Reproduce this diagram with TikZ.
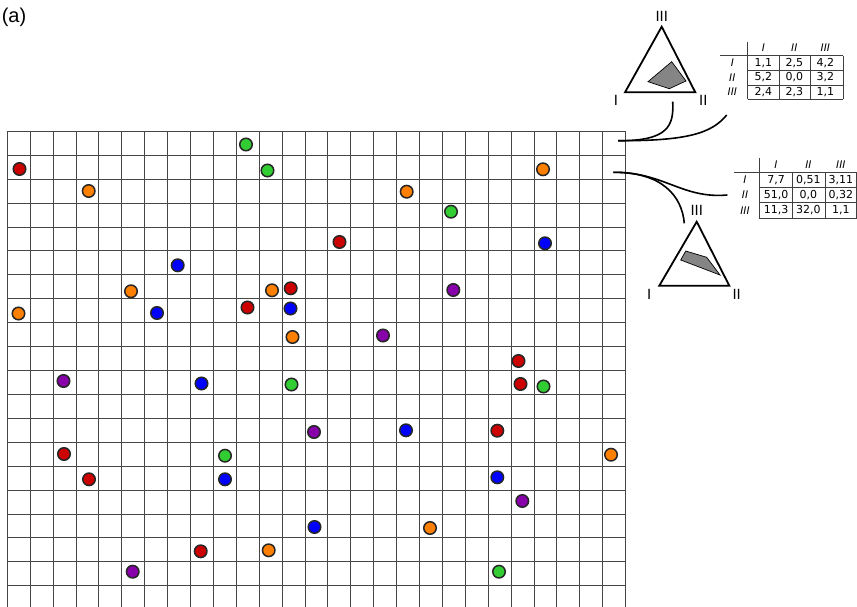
\documentclass[tikz,border=0pt]{standalone}
\usepackage{fontspec}
\setmainfont{DejaVu Sans}
\newfontfamily\captfont{Liberation Sans}
\usetikzlibrary{positioning}
\definecolor{dotred}{RGB}{204,0,0}
\definecolor{dotgreen}{RGB}{50,205,50}
\definecolor{dotorange}{RGB}{255,128,0}
\definecolor{dotblue}{RGB}{0,0,255}
\definecolor{dotpurple}{RGB}{136,0,170}
\definecolor{gridgray}{RGB}{70,70,70}

\begin{document}
\begin{tikzpicture}[x=1pt,y=-1pt,
    g/.style={draw=gridgray,line width=0.9pt},
    dot/.style={circle,draw=black!85,line width=1.5pt,minimum size=12.5pt,inner sep=0pt},
    tri/.style={draw,line width=1.8pt,line join=miter},
    region/.style={draw,fill=black!48,line width=0.7pt},
    lab/.style={font=\fontsize{14}{15}\selectfont,inner sep=0pt},
    cell/.style={font=\fontsize{11}{12}\selectfont,inner sep=0pt},
    hd/.style={font=\fontsize{10.5}{11}\selectfont\itshape,inner sep=0pt},
    tl/.style={draw=black!75,line width=0.8pt},
    wire/.style={line width=1.6pt}]
  \useasboundingbox (0,0) rectangle (857,607);
  \node[font=\captfont\fontsize{20}{21}\selectfont,inner sep=0pt] (cap) at (14,17) {(a)};

  \foreach \i in {0,...,27}
    \draw[g] (7.3+22.9*\i,131.3) -- (7.3+22.9*\i,607);
  \foreach \j in {0,...,19}
    \draw[g] (7.3,131.3+23.92*\j) -- (625.6,131.3+23.92*\j);

  \foreach \x/\y/\c [count=\n] in {
      246/144.5/dotgreen, 19.5/169/dotred, 267.5/170.5/dotgreen, 543/169.3/dotorange,
      88.7/191/dotorange, 406.7/191.7/dotorange, 451/211.7/dotgreen, 339.5/242/dotred,
      545/243.3/dotblue, 177.7/265.3/dotblue, 131/291.3/dotorange, 272/290.3/dotorange,
      290.7/288.3/dotred, 453.3/290/dotpurple, 18.5/313.5/dotorange, 157/313/dotblue,
      247.5/307.5/dotred, 290.5/308.5/dotblue, 292.5/337/dotorange, 383/335.5/dotpurple,
      518.5/361/dotred, 63.5/381/dotpurple, 201.5/383.5/dotblue, 291.5/384.5/dotgreen,
      520.5/384/dotred, 543.5/386.5/dotgreen, 314/432/dotpurple, 406/430.3/dotblue,
      497.3/430.7/dotred, 64/454/dotred, 225/455.7/dotgreen, 611/454.7/dotorange,
      89/479.3/dotred, 225/479.3/dotblue, 497.3/477.3/dotblue, 522.3/501/dotpurple,
      314.5/527/dotblue, 430/528/dotorange, 200.7/551.3/dotred, 268.7/550.3/dotorange,
      132.7/571.7/dotpurple, 499/571.7/dotgreen}
    \node[dot,fill=\c] (d\n) at (\x,\y) {};

  \draw[tri] (661.7,26.7) -- (695.3,92.3) -- (625,92.3) -- cycle;
  \draw[region] (671.7,61.7) -- (686,81) -- (669.3,88.7) -- (648,81.7) -- cycle;
  \node[lab] (ta3) at (661.7,16.7) {III};
  \node[lab] (ta1) at (616,100.5) {I};
  \node[lab] (ta2) at (703.3,100.5) {II};

  \draw[tri] (696.7,221.7) -- (729.3,285.7) -- (659.3,285.7) -- cycle;
  \draw[region] (685.7,251) -- (706.7,257.3) -- (720,275) -- (680.7,260) -- cycle;
  \node[lab] (tb3) at (696.7,210.5) {III};
  \node[lab] (tb1) at (649.3,294.5) {I};
  \node[lab] (tb2) at (736.7,294.5) {II};

  \draw[tl] (747.7,41.7) -- (747.7,99);
  \draw[tl] (720,55.7) -- (843.3,55.7);
  \foreach \xx in {779,810,843.3}
    \draw[tl] (\xx,55.7) -- (\xx,99);
  \foreach \yy in {70,85,99}
    \draw[tl] (747.7,\yy) -- (843.3,\yy);
  \foreach \h [count=\c from 0] in {I,II,III}{
    \node[hd] (ha\c) at (763.3+31*\c,47.7) {\h};
    \node[hd] (ra\c) at (732.3,62.8+14.6*\c) {\h};}
  \foreach \v [count=\c from 0] in {{1,1},{2,5},{4,2}}
    \node[cell] (ca1\c) at (763.3+31*\c,62.8) {\v};
  \foreach \v [count=\c from 0] in {{5,2},{0,0},{3,2}}
    \node[cell] (ca2\c) at (763.3+31*\c,77.5) {\v};
  \foreach \v [count=\c from 0] in {{2,4},{2,3},{1,1}}
    \node[cell] (ca3\c) at (763.3+31*\c,92) {\v};

  \draw[tl] (759.3,158.3) -- (759.3,218.3);
  \draw[tl] (734,172.3) -- (857,172.3);
  \foreach \xx in {792.7,825,856.5}
    \draw[tl] (\xx,172.3) -- (\xx,218.3);
  \foreach \yy in {187.3,202.3,218.3}
    \draw[tl] (759.3,\yy) -- (856.5,\yy);
  \foreach \h [count=\c from 0] in {I,II,III}{
    \node[hd] (hb\c) at (776+32.4*\c,164.3) {\h};
    \node[hd] (rb\c) at (745,179.8+15.2*\c) {\h};}
  \foreach \v [count=\c from 0] in {{7,7},{0,51},{3,11}}
    \node[cell] (cb1\c) at (776+32.4*\c,179.8) {\v};
  \foreach \v [count=\c from 0] in {{51,0},{0,0},{0,32}}
    \node[cell] (cb2\c) at (776+32.4*\c,194.8) {\v};
  \foreach \v [count=\c from 0] in {{11,3},{32,0},{1,1}}
    \node[cell] (cb3\c) at (776+32.4*\c,210.3) {\v};

  \coordinate (s1) at (618,140.7);
  \coordinate (e1t) at (672.7,101.7);
  \coordinate (e1m) at (726.7,115);
  \draw[wire] (s1) .. controls (668,141) and (674,126) .. (e1t);
  \draw[wire] (s1) .. controls (688,141) and (712,133) .. (e1m);
  \coordinate (s2) at (613.3,172.3);
  \coordinate (e2t) at (684.3,223.3);
  \coordinate (e2m) at (727.3,195);
  \draw[wire] (s2) .. controls (662,172) and (682,196) .. (e2t);
  \draw[wire] (s2) .. controls (664,172) and (682,199) .. (e2m);
\end{tikzpicture}
\end{document}
